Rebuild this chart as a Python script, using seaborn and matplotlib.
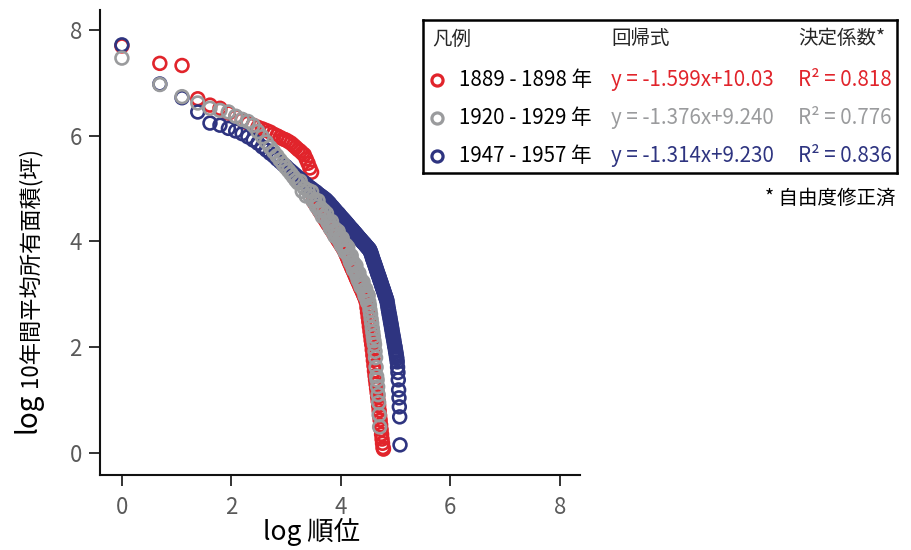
import numpy as np
import pandas as pd
import matplotlib
matplotlib.use("Agg")
import matplotlib.pyplot as plt
import seaborn as sns

# ---- legend / table text
periods = ["1889 - 1898 年", "1920 - 1929 年", "1947 - 1957 年"]
formulas = ["y = -1.599x+10.03", "y = -1.376x+9.240", "y = -1.314x+9.230"]
r2_labels = ["R² = 0.818", "R² = 0.776", "R² = 0.836"]
colors = ["#e1242b", "#9a9b9d", "#2e3480"]

# ---- log 10年間平均所有面積, listed by rank (1, 2, 3, ...)
area_1889 = [
    7.70, 7.37, 7.33, 6.70, 6.58, 6.52, 6.43, 6.36, 6.30, 6.24,
    6.20, 6.16, 6.13, 6.10, 6.07, 6.03, 6.00, 5.97, 5.94, 5.92,
    5.89, 5.86, 5.82, 5.78, 5.74, 5.71, 5.67, 5.64, 5.56, 5.48,
    5.39, 5.31, 4.77, 4.72, 4.68, 4.63, 4.58, 4.54, 4.50, 4.45,
    4.41, 4.37, 4.33, 4.30, 4.26, 4.22, 4.19, 4.15, 4.12, 4.09,
    4.05, 4.02, 3.99, 3.96, 3.93, 3.90, 3.87, 3.84, 3.80, 3.76,
    3.72, 3.68, 3.64, 3.60, 3.57, 3.53, 3.49, 3.46, 3.43, 3.39,
    3.36, 3.32, 3.29, 3.26, 3.23, 3.20, 3.17, 3.13, 3.11, 3.08,
    3.05, 3.02, 2.99, 2.96, 2.93, 2.90, 2.85, 2.75, 2.66, 2.57,
    2.48, 2.39, 2.30, 2.22, 2.13, 2.05, 1.95, 1.85, 1.75, 1.65,
    1.55, 1.46, 1.38, 1.30, 1.22, 1.14, 1.06, 0.98, 0.89, 0.80,
    0.70, 0.62, 0.53, 0.44, 0.35, 0.26, 0.18, 0.10, 0.07,
]
area_1920 = [
    7.47, 6.97, 6.74, 6.62, 6.52, 6.48, 6.45, 6.37, 6.31, 6.27,
    6.20, 6.08, 5.98, 5.88, 5.78, 5.70, 5.62, 5.54, 5.47, 5.40,
    5.34, 5.28, 5.22, 5.16, 5.11, 5.14, 4.95, 5.01, 4.86, 4.97,
    4.86, 4.94, 4.76, 4.79, 4.66, 4.77, 4.58, 4.63, 4.47, 4.58,
    4.46, 4.53, 4.36, 4.38, 4.25, 4.38, 4.19, 4.26, 4.10, 4.22,
    4.11, 4.19, 4.02, 4.05, 3.93, 4.06, 3.88, 3.95, 3.80, 3.93,
    3.82, 3.89, 3.71, 3.74, 3.61, 3.73, 3.55, 3.61, 3.46, 3.57,
    3.46, 3.54, 3.36, 3.39, 3.27, 3.40, 3.22, 3.29, 3.14, 3.25,
    3.15, 3.23, 3.06, 3.09, 2.97, 3.10, 2.93, 3.00, 2.85, 2.98,
    2.86, 2.79, 2.70, 2.62, 2.53, 2.45, 2.36, 2.28, 2.20, 2.12,
    2.05, 1.92, 1.80, 1.62, 1.45, 1.38, 1.25, 1.10, 0.95, 0.72,
    0.49,
]
area_1947 = [
    7.72, 6.98, 6.72, 6.45, 6.24, 6.20, 6.14, 6.09, 6.04, 5.98,
    5.92, 5.86, 5.79, 5.73, 5.67, 5.62, 5.56, 5.51, 5.46, 5.42,
    5.37, 5.33, 5.29, 5.25, 5.21, 5.18, 5.14, 5.11, 5.08, 5.05,
    5.02, 5.00, 4.97, 4.95, 4.93, 4.90, 4.88, 4.86, 4.84, 4.82,
    4.80, 4.78, 4.75, 4.73, 4.70, 4.67, 4.65, 4.62, 4.60, 4.57,
    4.55, 4.53, 4.51, 4.48, 4.46, 4.44, 4.42, 4.40, 4.38, 4.36,
    4.34, 4.32, 4.30, 4.28, 4.26, 4.24, 4.23, 4.21, 4.19, 4.17,
    4.16, 4.14, 4.12, 4.11, 4.09, 4.07, 4.06, 4.04, 4.03, 4.01,
    4.00, 3.98, 3.97, 3.96, 3.94, 3.93, 3.91, 3.90, 3.89, 3.87,
    3.86, 3.85, 3.83, 3.80, 3.77, 3.74, 3.70, 3.67, 3.64, 3.61,
    3.58, 3.55, 3.52, 3.49, 3.46, 3.43, 3.40, 3.37, 3.35, 3.32,
    3.29, 3.26, 3.24, 3.21, 3.18, 3.15, 3.13, 3.10, 3.08, 3.05,
    3.02, 3.00, 2.97, 2.95, 2.92, 2.90, 2.87, 2.82, 2.77, 2.72,
    2.68, 2.63, 2.59, 2.55, 2.50, 2.46, 2.42, 2.37, 2.33, 2.28,
    2.24, 2.20, 2.16, 2.12, 2.07, 2.03, 2.00, 1.95, 1.91, 1.87,
    1.82, 1.78, 1.72, 1.62, 1.52, 1.38, 1.19, 1.04, 0.87, 0.68,
    0.15,
]

areas = [area_1889, area_1920, area_1947]

frames = []
for label, vals in zip(periods, areas):
    rank = np.arange(1, len(vals) + 1)
    frames.append(pd.DataFrame({"period": label,
                                "log_rank": np.log(rank),
                                "log_area": vals}))
df = pd.concat(frames, ignore_index=True)

sns.set_theme(style="ticks")
plt.rcParams["font.family"] = ["Noto Sans CJK JP", "DejaVu Sans"]

W, H = 912, 550
fig = plt.figure(figsize=(W / 100, H / 100), dpi=100)
ax = fig.add_axes([100 / W, 1 - 475 / H, 480 / W, 465 / H])

# red first, then navy, gray on top
for i in [0, 2, 1]:
    sub = df[df["period"] == periods[i]]
    sns.scatterplot(data=sub, x="log_rank", y="log_area", ax=ax,
                    s=85, marker="o", color=colors[i],
                    facecolor="none", edgecolor=colors[i],
                    linewidth=1.9, legend=False)

ax.set_xlim(-0.40, 8.37)
ax.set_ylim(-0.42, 8.38)
ax.set_xticks([0, 2, 4, 6, 8])
ax.set_yticks([0, 2, 4, 6, 8])
ax.set_xlabel("")
ax.set_ylabel("")
sns.despine(ax=ax)
for sp in ["left", "bottom"]:
    ax.spines[sp].set_linewidth(1.5)
    ax.spines[sp].set_color("#111111")
ax.tick_params(axis="both", length=8, width=1.4, color="#333333",
               labelsize=16, labelcolor="#5a5a5a")
ax.tick_params(axis="x", pad=7)
ax.tick_params(axis="y", pad=5)

# axis titles
fig.text(312 / W, 1 - 532 / H, "log 順位", ha="center", va="center",
         fontsize=19, color="black")
fig.text(28 / W, 1 - 433 / H, "log", rotation=90, ha="center", va="bottom",
         fontsize=20, color="black")
fig.text(30 / W, 1 - 387 / H, "10年間平均所有面積(坪)", rotation=90,
         ha="center", va="bottom", fontsize=16, color="black")

# table-like legend box
bx0, bx1, by0, by1 = 423, 897, 20, 173
lax = fig.add_axes([bx0 / W, 1 - by1 / H, (bx1 - bx0) / W, (by1 - by0) / H])
lax.set_xlim(bx0, bx1)
lax.set_ylim(by1, by0)
lax.set_xticks([])
lax.set_yticks([])
lax.set_facecolor("white")
for sp in lax.spines.values():
    sp.set_visible(True)
    sp.set_linewidth(1.8)
    sp.set_color("black")

header_y = 39
lax.text(432, header_y, "凡例", va="center", ha="left", fontsize=14)
lax.text(611, header_y, "回帰式", va="center", ha="left", fontsize=14)
lax.text(798, header_y, "決定係数*", va="center", ha="left", fontsize=14)

row_y = [80, 118, 156]
for i in range(3):
    lax.plot([437], [row_y[i]], marker="o", ms=8, mfc="none",
             mec=colors[i], mew=2.3, linestyle="none")
    lax.text(459, row_y[i], periods[i], va="center", ha="left",
             fontsize=14.8, color="black")
    lax.text(611, row_y[i], formulas[i], va="center", ha="left",
             fontsize=14.8, color=colors[i])
    lax.text(798, row_y[i], r2_labels[i], va="center", ha="left",
             fontsize=14.8, color=colors[i])

fig.text(896 / W, 1 - 198 / H, "* 自由度修正済", ha="right", va="center",
         fontsize=14, color="black")

fig.savefig("out.png", dpi=100)
